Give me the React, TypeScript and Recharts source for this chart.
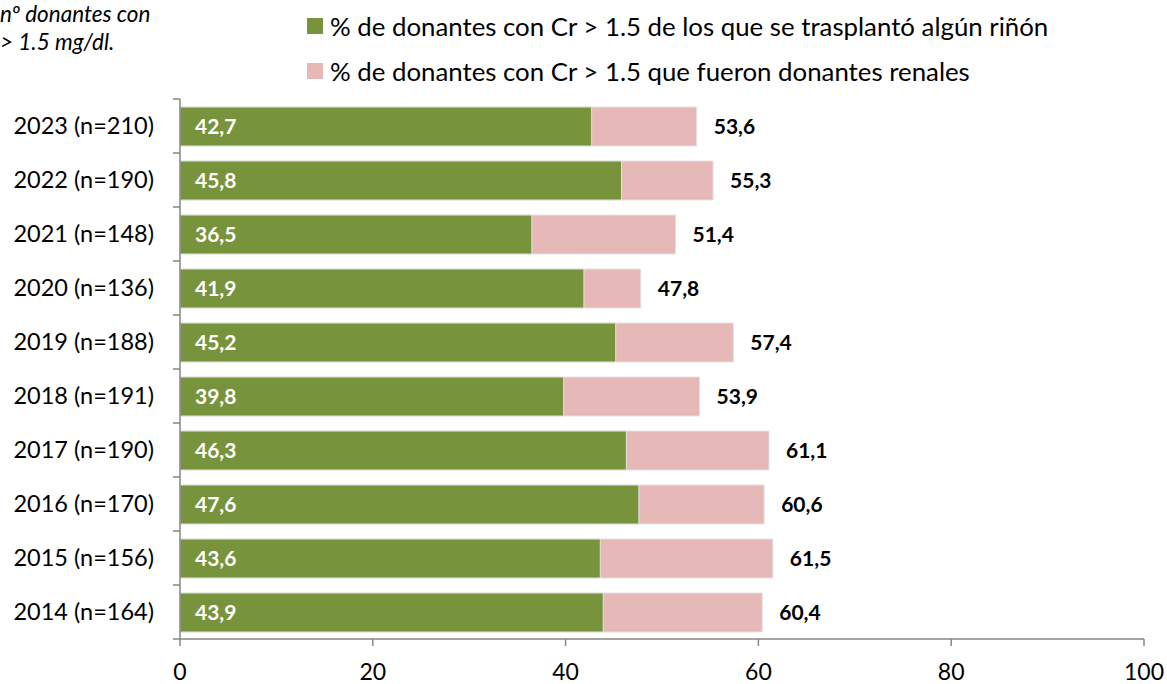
import React from 'react'
import { BarChart, Bar, XAxis, YAxis, LabelList } from 'recharts'

const years = ['2023 (n=210)', '2022 (n=190)', '2021 (n=148)', '2020 (n=136)', '2019 (n=188)', '2018 (n=191)', '2017 (n=190)', '2016 (n=170)', '2015 (n=156)', '2014 (n=164)']
const trasplantado = [42.7, 45.8, 36.5, 41.9, 45.2, 39.8, 46.3, 47.6, 43.6, 43.9]
const renales = [53.6, 55.3, 51.4, 47.8, 57.4, 53.9, 61.1, 60.6, 61.5, 60.4]
const xTicks = [0, 20, 40, 60, 80, 100]

const legendNames = [
  '% de donantes con Cr > 1.5 de los que se trasplantó algún riñón',
  '% de donantes con Cr > 1.5 que fueron donantes renales',
]

const data = years.map((y, i) => ({ year: y, verde: trasplantado[i], rosa: renales[i] }))

const FONT = 'Lato, "Open Sans", sans-serif'
const AXIS = '#868686'
const GREEN = '#77933C'
const PINK = '#E6B9B8'

const TOP = 99
const BOTTOM = 45
const H = 684
const band = (H - TOP - BOTTOM) / years.length

const fmt = (v: any) => String(v).replace('.', ',')

const YTick = (props: any) => {
  const { x, y, payload, index } = props
  return (
    <g>
      <line x1={x + 1} x2={x + 8} y1={y - band / 2} y2={y - band / 2} stroke={AXIS} strokeWidth={1.5} />
      {index === years.length - 1 && (
        <line x1={x + 1} x2={x + 8} y1={y + band / 2} y2={y + band / 2} stroke={AXIS} strokeWidth={1.5} />
      )}
      <text x={x - 18} y={y} dy={8} textAnchor="end" fontSize={23.5} fontFamily={FONT} fill="#000">
        {payload.value}
      </text>
    </g>
  )
}

const XTick = (props: any) => {
  const { x, y, payload } = props
  return (
    <g>
      <line x1={x} x2={x} y1={y - 8} y2={y - 1} stroke={AXIS} strokeWidth={1.5} />
      <text x={x} y={y + 33} textAnchor="middle" fontSize={23} fontFamily={FONT} fill="#000">
        {payload.value}
      </text>
    </g>
  )
}

export default function App() {
  return (
    <div style={{ position: 'absolute', left: 0, top: 0, width: 1167, height: 684, background: '#fff', overflow: 'hidden' }}>
      <div style={{ position: 'absolute', left: 0, top: 0, fontFamily: FONT, fontStyle: 'italic', fontSize: 22.5, lineHeight: '28px', color: '#000', whiteSpace: 'nowrap' }}>
        <div>nº donantes con</div>
        <div>&gt; 1.5 mg/dl.</div>
      </div>
      <div style={{ position: 'absolute', left: 307, top: 3, fontFamily: FONT, fontSize: 25.8, color: '#000', whiteSpace: 'nowrap' }}>
        {legendNames.map((n, i) => (
          <div key={n} style={{ display: 'flex', alignItems: 'center', height: 45 }}>
            <span style={{ display: 'inline-block', width: 16, height: 16, background: i === 0 ? GREEN : PINK, marginRight: 7 }} />
            <span>{n}</span>
          </div>
        ))}
      </div>
      <BarChart
        width={1167}
        height={684}
        data={data}
        layout="vertical"
        margin={{ top: TOP, right: 23, left: 0, bottom: 0 }}
        barSize={39}
        barGap={-39}
      >
        <XAxis
          type="number"
          domain={[0, 100]}
          ticks={xTicks}
          height={BOTTOM}
          stroke={AXIS}
          strokeWidth={1.5}
          tickLine={false}
          tick={<XTick />}
          interval={0}
        />
        <YAxis
          type="category"
          dataKey="year"
          width={180}
          stroke={AXIS}
          strokeWidth={1.5}
          tickLine={false}
          tick={<YTick />}
          interval={0}
        />
        <Bar dataKey="rosa" fill={PINK} stroke="#e3e3e3" strokeWidth={1} isAnimationActive={false}>
          <LabelList dataKey="rosa" position="right" offset={17} formatter={fmt} fill="#000" fontSize={21} fontWeight="bold" fontFamily={FONT} />
        </Bar>
        <Bar dataKey="verde" fill={GREEN} stroke="#e3e3e3" strokeWidth={1} isAnimationActive={false}>
          <LabelList dataKey="verde" position="insideLeft" offset={15} formatter={fmt} fill="#fff" fontSize={21} fontWeight="bold" fontFamily={FONT} />
        </Bar>
      </BarChart>
    </div>
  )
}
